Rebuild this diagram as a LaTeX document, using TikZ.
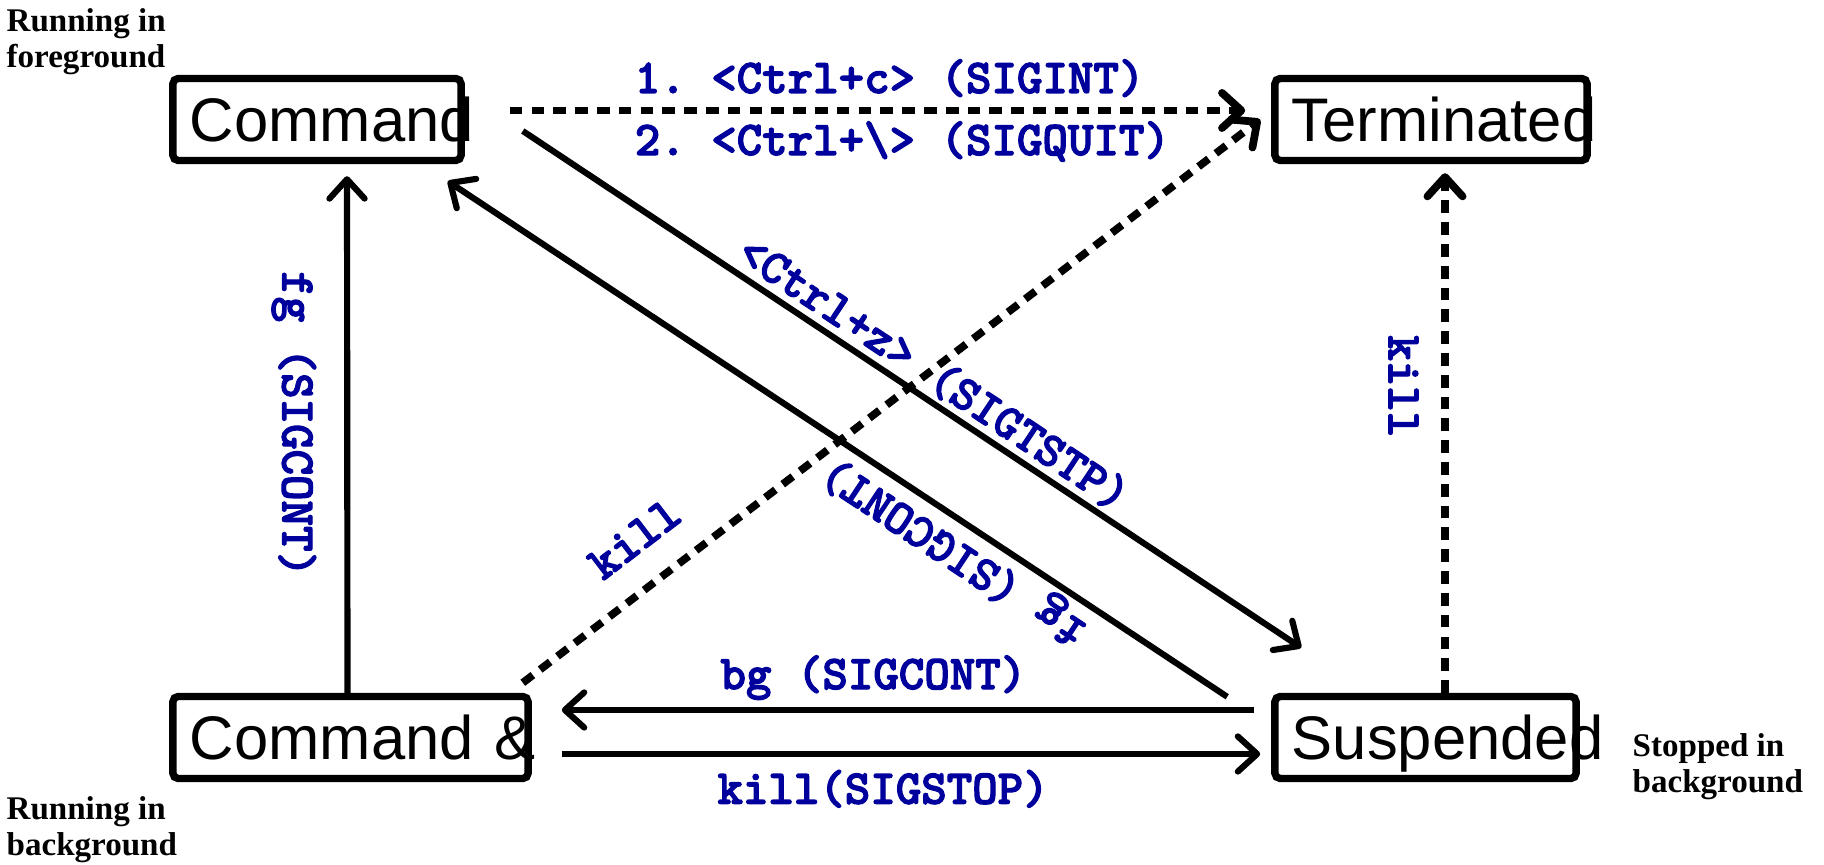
\documentclass[tikz,border=0pt]{standalone}
\usepackage{fontspec}
\usetikzlibrary{arrows.meta}
\newfontfamily\boxfont{Liberation Sans}
\newfontfamily\notefont{Liberation Serif}
\newfontfamily\sigfont{lmmonolt10-bold}[Extension=.otf,FakeBold=2.5]
\definecolor{sigblue}{HTML}{00009C}
\tikzset{
  proc/.style={draw,line width=2.1pt,rounded corners=1.5pt,inner xsep=0.17cm,
    minimum height=0.82cm,text height=12.5pt,text depth=0pt,align=left,
    font=\boxfont\fontsize{17.5}{20}\selectfont},
  note/.style={align=left,inner sep=0pt,anchor=north west,
    font=\notefont\bfseries\fontsize{9.4}{10.3}\selectfont},
  siglabel/.style={text=sigblue,inner sep=1pt,
    font=\sigfont\fontsize{13.8}{15}\selectfont\frenchspacing},
  signal/.style={-{Straight Barb[length=5.5pt,width=10pt,round]},line width=1.75pt},
  termsig/.style={signal,line width=2.2pt,dash pattern=on 3.6pt off 2.6pt}
}
\begin{document}
\begin{tikzpicture}[x=0.01cm,y=-0.01cm]
\useasboundingbox (0,0) rectangle (1824,865);
% process states
\node[proc,text width=2.54cm] (cmd) at (317,119.5) {\mbox{Command}};
\node[proc,text width=2.78cm] (term) at (1431,119.5) {\mbox{Terminated}};
\node[proc,text width=3.21cm] (cmdbg) at (350.5,737.5) {\mbox{Command \&}};
\node[proc,text width=2.67cm] (susp) at (1425.5,737.5) {\mbox{Suspended}};
% side notes
\node[note] (fgnote) at (6,8) {Running in\\foreground};
\node[note] (bgnote) at (6,796) {Running in\\background};
\node[note] (stopnote) at (1632,733) {Stopped in\\background};
% transitions
\draw[termsig] ([shift={(45,-9)}]cmd.east) -- ([shift={(-26,-9)}]term.west)
  node[siglabel,pos=0.16,anchor=base west,yshift=0.175cm] (intlbl) {1. <Ctrl+c> (SIGINT)}
  node[siglabel,pos=0.16,anchor=base west,yshift=-0.445cm] (quitlbl) {2. <Ctrl+\textbackslash> (SIGQUIT)};
\draw[signal] ([shift={(58,11.5)}]cmd.east) -- ([shift={(30,-45)}]susp.north west)
  node[siglabel,pos=0.51,sloped,above] (tstplbl) {<Ctrl+z> (SIGTSTP)};
\draw[signal] ([shift={(-44,4)}]susp.north west) -- ([shift={(-17,17)}]cmd.south east)
  node[siglabel,pos=0.33,sloped,allow upside down,above] (fglbl) {fg (SIGCONT)};
\draw[termsig] ([shift={(-9,-10)}]cmdbg.north east) -- ([shift={(-11,0)}]term.west)
  node[siglabel,pos=0.19,sloped,above,inner sep=8pt] (killlbl) {kill};
\draw[signal] ([shift={(-3,0)}]cmdbg.north) -- ([shift={(30,12)}]cmd.south)
  node[siglabel,pos=0.52,rotate=-90,anchor=north,inner sep=8pt] (fgvlbl) {fg (SIGCONT)};
\draw[termsig] ([shift={(19.5,0)}]susp.north) -- ([shift={(14,9)}]term.south)
  node[siglabel,pos=0.59,rotate=-90,anchor=north,inner sep=6.5pt] (killvlbl) {kill};
\draw[signal] ([shift={(-17,-27.5)}]susp.west) -- ([shift={(30,-27.5)}]cmdbg.east)
  node[siglabel,pos=0.55,above,inner sep=2pt] (bglbl) {bg (SIGCONT)};
\draw[signal] ([shift={(30,16.5)}]cmdbg.east) -- ([shift={(-11,16.5)}]susp.west)
  node[siglabel,pos=0.46,below,inner sep=3.7pt] (stoplbl) {kill(SIGSTOP)};
\end{tikzpicture}
\end{document}
